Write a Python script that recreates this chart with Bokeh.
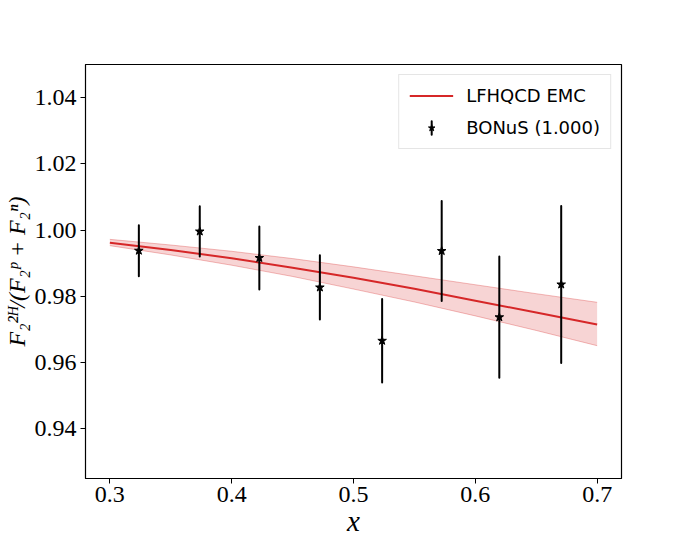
import numpy as np
from bokeh.plotting import figure
from bokeh.models import FixedTicker, NumeralTickFormatter, Legend, LegendItem, ColumnDataSource
from bokeh.embed import file_html
from bokeh.resources import INLINE

# Theory curve (LFHQCD EMC) with uncertainty band
curve_x = [0.30, 0.35, 0.40, 0.45, 0.50, 0.55, 0.60, 0.65, 0.70]
curve_y = [0.9962, 0.9940, 0.9915, 0.9886, 0.9856, 0.9823, 0.9787, 0.9751, 0.9715]
band_hi = [0.9972, 0.9955, 0.9936, 0.9914, 0.9889, 0.9862, 0.9835, 0.9808, 0.9782]
band_lo = [0.9953, 0.9925, 0.9894, 0.9860, 0.9822, 0.9783, 0.9741, 0.9697, 0.9651]

# BONuS data
data_x = [0.3238, 0.3738, 0.4227, 0.4724, 0.5235, 0.5724, 0.6197, 0.6705]
data_y = [0.9938, 0.9996, 0.9916, 0.9827, 0.9666, 0.9937, 0.9737, 0.9836]
data_err = [0.0077, 0.0076, 0.0095, 0.0097, 0.0126, 0.0151, 0.0183, 0.0237]

x_ticks = [0.3, 0.4, 0.5, 0.6, 0.7]
y_ticks = [0.94, 0.96, 0.98, 1.00, 1.02, 1.04]

RED = "#d62728"
SERIF = "Liberation Serif"

p = figure(width=676, height=530, output_backend="svg", toolbar_location=None,
           x_range=(0.28, 0.72), y_range=(0.925, 1.05),
           frame_width=536, frame_height=414,
           min_border_left=79, min_border_top=64, min_border_right=61, min_border_bottom=52)

p.xgrid.visible = False
p.ygrid.visible = False
p.outline_line_color = "black"
p.outline_line_width = 1.2
p.background_fill_color = "white"
p.border_fill_color = "white"

p.varea(x=curve_x, y1=band_lo, y2=band_hi, fill_color=RED, fill_alpha=0.2)
p.line(curve_x, band_hi, line_color=RED, line_alpha=0.3, line_width=1)
p.line(curve_x, band_lo, line_color=RED, line_alpha=0.3, line_width=1)
line_r = p.line(curve_x, curve_y, line_color=RED, line_width=2)

src = ColumnDataSource(dict(x=data_x, y=data_y, w=[0.00005] * len(data_x),
                            h=[2 * e for e in data_err]))
bar_r = p.ellipse(x="x", y="y", width="w", height="h", source=src,
                  fill_color=None, line_color="black", line_width=2)
star_r = p.scatter(x="x", y="y", source=src, marker="star", size=9,
                   fill_color="black", line_color="black")

p.xaxis.ticker = FixedTicker(ticks=x_ticks)
p.yaxis.ticker = FixedTicker(ticks=y_ticks)
p.xaxis.formatter = NumeralTickFormatter(format="0.0")
p.yaxis.formatter = NumeralTickFormatter(format="0.00")
for ax in (p.xaxis, p.yaxis):
    ax.major_label_text_font = SERIF
    ax.major_label_text_font_size = "24px"
    ax.major_label_text_color = "black"
    ax.minor_tick_line_color = None
    ax.major_tick_out = 5
    ax.major_tick_in = 0
    ax.major_tick_line_color = "black"
    ax.axis_line_color = "black"
    ax.axis_label_text_font = SERIF
    ax.axis_label_text_font_style = "italic"
    ax.axis_label_text_color = "black"

p.xaxis.axis_label = "x"
p.xaxis.axis_label_text_font_size = "29px"
p.xaxis.axis_label_standoff = 0
p.xaxis.major_label_standoff = 3
p.yaxis.axis_label = "F\u2082\u00b2\u1d34/(F\u2082\u1d56 + F\u2082\u207f)"
p.yaxis.axis_label_text_font_size = "24px"
p.yaxis.axis_label_standoff = 2
p.yaxis.major_label_standoff = 4

legend = Legend(items=[
    LegendItem(label="LFHQCD EMC", renderers=[line_r]),
    LegendItem(label="BONuS (1.000)", renderers=[bar_r, star_r]),
], location="top_right")
legend.label_text_font = "DejaVu Sans"
legend.label_text_font_size = "18px"
legend.label_text_color = "black"
legend.glyph_width = 44
legend.glyph_height = 17
legend.label_standoff = 13
legend.spacing = 11
legend.padding = 10
legend.margin = 10
legend.border_line_color = "#cccccc"
legend.border_line_width = 1
legend.background_fill_alpha = 0.8
p.add_layout(legend)

open("out.html", "w").write(file_html(p, INLINE))
